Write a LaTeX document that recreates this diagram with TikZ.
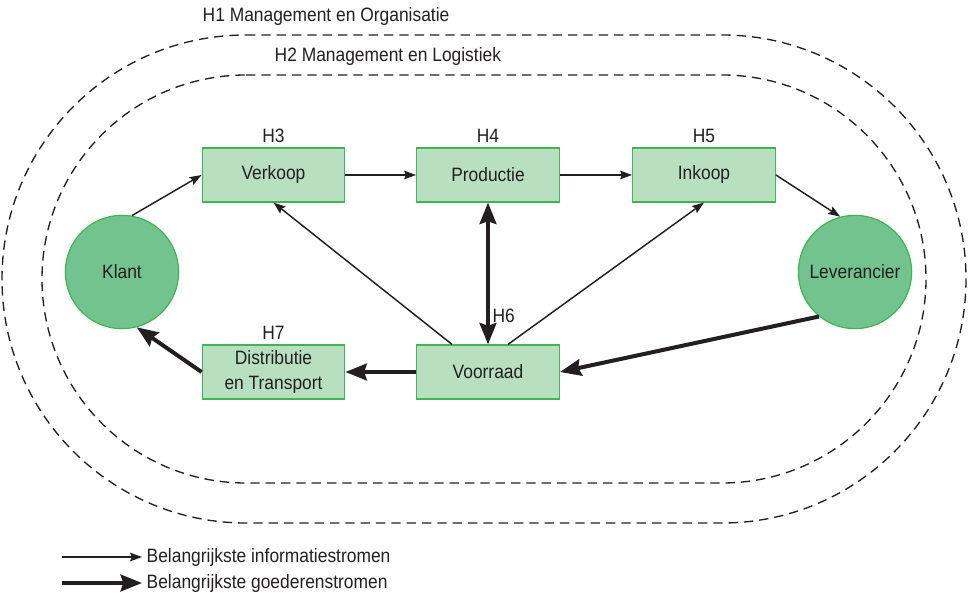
\documentclass[tikz,border=0pt]{standalone}
\usepackage{fontspec}
\setmainfont{Liberation Sans}[FakeStretch=0.9]
\usetikzlibrary{arrows.meta}
\definecolor{boxfill}{HTML}{B7DFC0}
\definecolor{boxline}{HTML}{3DB651}
\definecolor{partyfill}{HTML}{72C38E}
\definecolor{ink}{HTML}{231F20}
\tikzset{every node/.style={text=ink, font=\fontsize{14.5}{19}\selectfont},
    box/.style={draw=boxline, fill=boxfill, line width=0.9pt,
        minimum width=107pt, minimum height=40.5pt, align=center},
    party/.style={circle, draw=boxline, fill=partyfill, line width=0.9pt,
        minimum size=85pt, inner sep=0pt},
    zone/.style={draw=ink, dash pattern=on 7pt off 4.5pt, line width=1pt},
    infoflow/.style={draw=ink, line width=1.1pt,
        -{Stealth[length=9pt,width=6.5pt,inset=1.5pt]}},
    goodsflow/.style={draw=ink, line width=3pt,
        -{Stealth[length=16pt,width=12.5pt,inset=2pt]}},
    goodsboth/.style={draw=ink, line width=3pt,
        {Stealth[length=16pt,width=12.5pt,inset=2pt]}-{Stealth[length=16pt,width=12.5pt,inset=2pt]}},
    }

\begin{document}
\begin{tikzpicture}[x=0.75pt,y=-0.75pt]
\useasboundingbox (0,0) rectangle (970,595);
% H1 and H2 zones
\draw[zone] (246,35) -- (722,35) arc(-90:90:244) -- (246,523) arc(90:270:244) -- cycle;
\draw[zone] (246,75) -- (722,75) arc(-90:90:204) -- (246,483) arc(90:270:204) -- cycle;
\node[anchor=west] (h1) at (198,17) {H1 Management en Organisatie};
\node[anchor=west] (h2) at (270,57) {H2 Management en Logistiek};
% departments
\node[box, label=above:H3] (verkoop) at (273.5,175) {Verkoop};
\node[box, label=above:H4] (productie) at (488,175) {Productie};
\node[box, label=above:H5] (inkoop) at (704,175) {Inkoop};
\node[box] (voorraad) at (488,372) {Voorraad};
\node[box, label=above:H7] (distributie) at (273.5,372) {Distributie\\en Transport};
\node[party] (klant) at (122,272) {Klant};
\node[party] (leverancier) at (855,272) {Leverancier};
% flows
\draw[infoflow] (klant.80) -- (verkoop.west);
\draw[infoflow] (verkoop) -- (productie);
\draw[infoflow] (productie) -- (inkoop);
\draw[infoflow] (inkoop.east) -- (leverancier.105);
\draw[infoflow] ([xshift=-27pt]voorraad.north) -- (verkoop.south);
\draw[infoflow] ([xshift=15pt]voorraad.north) -- (inkoop.south);
\draw[goodsboth] (productie) -- node[pos=0.8, right, inner sep=2pt] (h6) {H6} (voorraad);
\draw[goodsflow] (leverancier.231) -- (voorraad.east);
\draw[goodsflow] (voorraad) -- (distributie);
\draw[goodsflow] (distributie.west) -- (klant.-75);
% legend
\coordinate (infostart) at (62,557);
\node[anchor=west] (infolabel) at (142,557) {Belangrijkste informatiestromen};
\draw[infoflow] (infostart) -- (infolabel);
\coordinate (goodsstart) at (62,583);
\node[anchor=west] (goodslabel) at (142,583) {Belangrijkste goederenstromen};
\draw[goodsflow] (goodsstart) -- (goodslabel);
\end{tikzpicture}
\end{document}
